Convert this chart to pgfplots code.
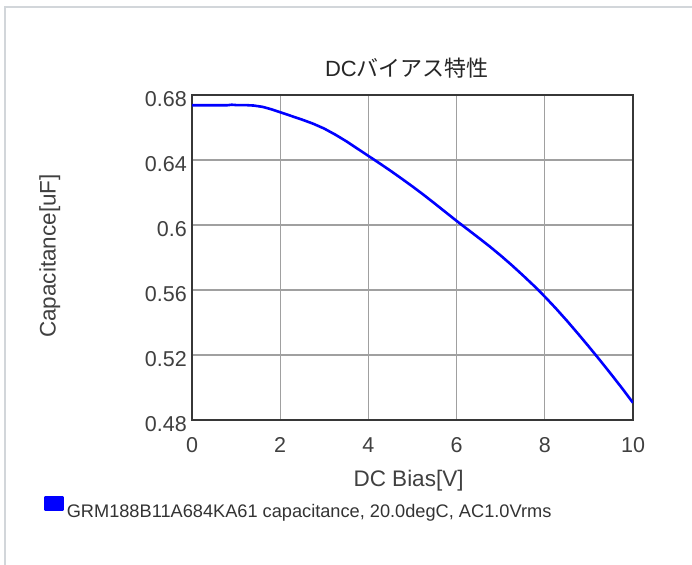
\documentclass[border=0pt]{standalone}
\usepackage{fontspec}
\setmainfont{Liberation Sans}
\newfontfamily\cjk{Noto Sans CJK JP}
\usepackage{pgfplots}
\pgfplotsset{compat=1.18}
\definecolor{framegray}{RGB}{210,214,218}
\definecolor{gridgray}{RGB}{160,160,160}
\definecolor{axisgray}{RGB}{55,55,55}
\pgfplotstableread{
x y
0.0 0.6737
0.2 0.6737
0.4 0.6737
0.6 0.6737
0.8 0.6737
0.9 0.6740
1.0 0.6738
1.2 0.6738
1.4 0.6735
1.6 0.6727
1.8 0.6712
2.0 0.6694
2.25 0.6671
2.5 0.6648
2.75 0.6623
3.0 0.6593
3.25 0.6556
3.5 0.6515
3.75 0.6470
4.0 0.6425
4.25 0.6380
4.5 0.6334
4.75 0.6286
5.0 0.6237
5.25 0.6186
5.5 0.6133
5.75 0.6079
6.0 0.6025
6.25 0.5973
6.5 0.5921
6.75 0.5868
7.0 0.5812
7.25 0.5753
7.5 0.5691
7.75 0.5627
8.0 0.5559
8.25 0.5487
8.5 0.5411
8.75 0.5332
9.0 0.5251
9.25 0.5168
9.5 0.5083
9.75 0.4996
10.0 0.4906
}\capdata
\begin{document}
\begin{tikzpicture}[x=1bp,y=1bp]
\useasboundingbox (0,0) rectangle (692,565);
\fill[white] (0,0) rectangle (692,565);
\draw[framegray, line width=2bp] (4.5,-2) -- (4.5,558) -- (694,558);
\begin{axis}[
  at={(192bp,145bp)}, anchor=south west,
  width=441bp, height=325bp, scale only axis,
  xmin=0, xmax=10, ymin=0.48, ymax=0.68,
  xtick={0,2,4,6,8,10},
  ytick={0.48,0.52,0.56,0.6,0.64,0.68},
  yticklabels={0.48,0.52,0.56,0.6,0.64,0.68},
  /pgf/number format/assume math mode=true,
  major tick length=0pt,
  grid=major,
  grid style={gridgray, line width=1.2bp},
  axis line style={axisgray, line width=2bp},
  tick label style={font=\fontsize{21.5bp}{24bp}\selectfont, text=black!75},
  yticklabel style={inner sep=0pt, anchor=east, xshift=-5bp, yshift=-4bp},
  xticklabel style={inner sep=0pt, anchor=north, yshift=-17.5bp},
  xlabel={DC Bias[V]},
  ylabel={Capacitance[uF]},
  label style={font=\fontsize{22.5bp}{26bp}\selectfont, text=black!75, inner sep=0pt},
  xlabel style={at={(axis description cs:0.491,-0.2052)}, anchor=base},
  ylabel style={at={(axis description cs:-0.309,0.5046)}, anchor=base, rotate=0},
  title={DC{\cjk バイアス特性}},
  title style={at={(axis description cs:0.4875,1.0378)}, anchor=base, inner sep=0pt,
    font=\fontsize{22bp}{26bp}\selectfont, text=black!85},
  legend style={draw=none, fill=none, inner sep=0pt,
    at={(axis description cs:-0.3356,-0.2831)}, anchor=base west,
    font=\fontsize{18.2bp}{21bp}\selectfont, text=black!80,
    nodes={inner sep=0pt}, column sep=3bp},
  legend cell align=left,
  legend image code/.code={\fill[blue] (0bp,2bp) rectangle (17bp,15bp);},
]
\addplot[blue, line width=2.6bp, line join=round] table[x=x, y=y] {\capdata};
\addlegendentry{GRM188B11A684KA61 capacitance, 20.0degC, AC1.0Vrms}
\end{axis}
\end{tikzpicture}
\end{document}
